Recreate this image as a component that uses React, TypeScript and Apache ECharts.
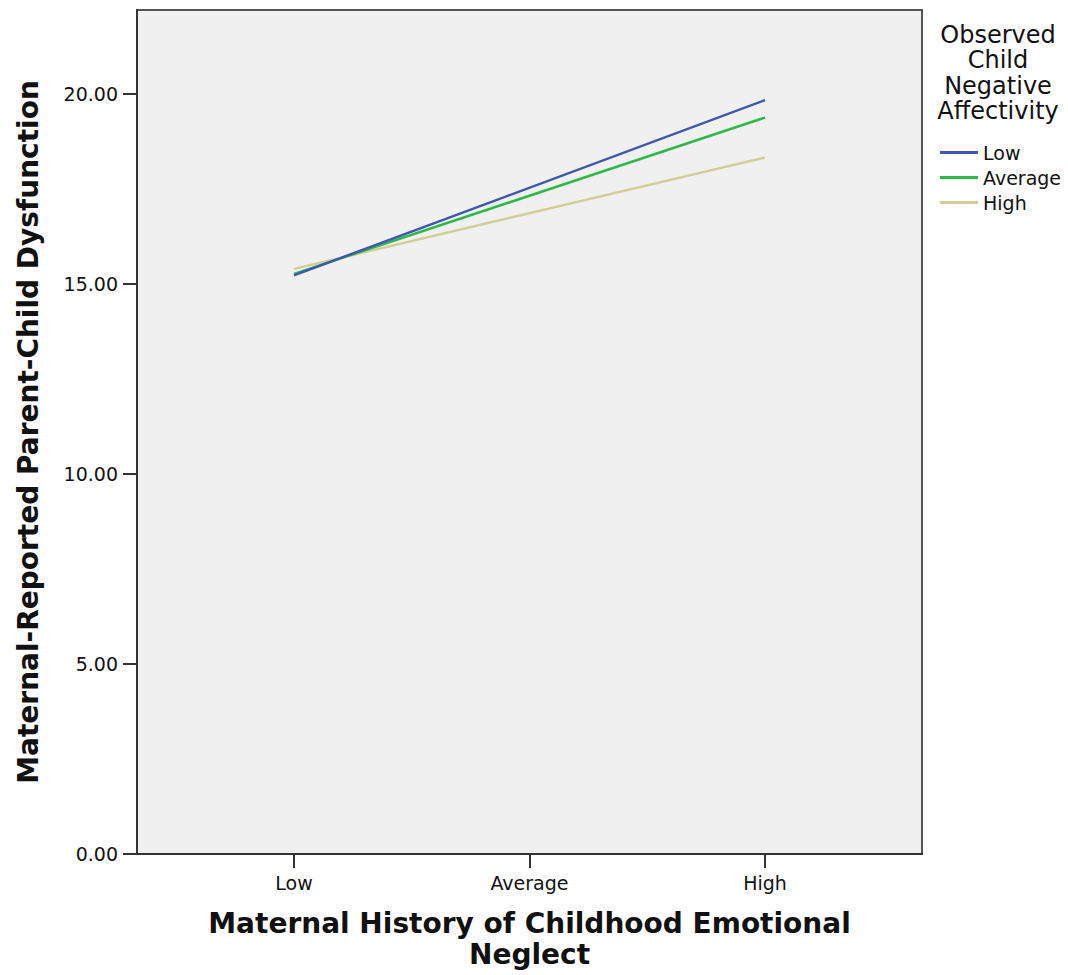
import React, { useEffect, useRef } from "react";
import * as echarts from "echarts";

// Levels of maternal childhood emotional neglect on the x axis
const xCategories = ["Low", "Average", "High"];
// Levels at which the simple slopes are evaluated
const plottedLevels = ["Low", "High"];
// Moderator levels (observed child negative affectivity)
const moderatorLevels = ["Low", "Average", "High"];
// Predicted parent-child dysfunction at Low and High neglect
const lowNAValues = [15.22, 19.83];
const averageNAValues = [15.26, 19.37];
const highNAValues = [15.39, 18.32];
const yTicks = [0, 5, 10, 15, 20];

const seriesValues = [lowNAValues, averageNAValues, highNAValues];
const seriesColors = ["#3E58AC", "#2EB848", "#D3CE97"];

const FONT = "DejaVu Sans";
const TEXT = "#111111";

export default function App() {
  const ref = useRef<HTMLDivElement>(null);

  useEffect(() => {
    if (!ref.current) return;
    const chart = echarts.init(ref.current, undefined, { renderer: "svg" });

    const series = moderatorLevels.map((name, i) => ({
      name,
      type: "line",
      data: plottedLevels.map((lvl, j) => [xCategories.indexOf(lvl) + 1, seriesValues[i][j]]),
      showSymbol: false,
      symbol: "none",
      lineStyle: { color: seriesColors[i], width: 2.5 },
      itemStyle: { color: seriesColors[i] },
      z: 3 - i,
    }));

    chart.setOption({
      animation: false,
      backgroundColor: "#ffffff",
      textStyle: { fontFamily: FONT },
      grid: {
        left: 137,
        top: 10,
        right: 146,
        bottom: 120,
        show: true,
        backgroundColor: "#f0f0f0",
        borderColor: "#555555",
        borderWidth: 2,
      },
      xAxis: {
        type: "value",
        min: 1 / 3,
        max: 11 / 3,
        name: "Maternal History of Childhood Emotional\nNeglect",
        nameLocation: "middle",
        nameGap: 54,
        nameTextStyle: {
          fontFamily: FONT,
          fontSize: 28,
          fontWeight: "bold",
          color: TEXT,
          lineHeight: 31,
        },
        axisLine: { show: true, lineStyle: { color: "#333333", width: 2 } },
        axisTick: {
          show: true,
          length: 14,
          customValues: xCategories.map((_, i) => i + 1),
          lineStyle: { color: "#333333", width: 2 },
        },
        axisLabel: {
          customValues: xCategories.map((_, i) => i + 1),
          formatter: (v: number) => xCategories[Math.round(v) - 1] ?? "",
          margin: 19,
          fontFamily: FONT,
          fontSize: 19,
          color: TEXT,
        },
        splitLine: { show: false },
      },
      yAxis: {
        type: "value",
        min: 0,
        max: 22.2,
        name: "Maternal-Reported Parent-Child Dysfunction",
        nameLocation: "middle",
        nameGap: 95,
        nameRotate: 90,
        nameTextStyle: {
          fontFamily: FONT,
          fontSize: 28,
          fontWeight: "bold",
          color: TEXT,
        },
        axisLine: { show: true, lineStyle: { color: "#333333", width: 2 } },
        axisTick: {
          show: true,
          length: 14,
          customValues: yTicks,
          lineStyle: { color: "#333333", width: 2 },
        },
        axisLabel: {
          customValues: yTicks,
          formatter: (v: number) => v.toFixed(2),
          margin: 19,
          fontFamily: FONT,
          fontSize: 19,
          color: TEXT,
        },
        splitLine: { show: false },
      },
      legend: {
        orient: "vertical",
        left: 935,
        top: 138,
        data: moderatorLevels,
        icon: "rect",
        itemWidth: 38,
        itemHeight: 3,
        itemGap: 6,
        textStyle: { fontFamily: FONT, fontSize: 19, color: TEXT, lineHeight: 19 },
      },
      graphic: [
        {
          type: "text",
          x: 998,
          y: 22,
          style: {
            text: "Observed\nChild\nNegative\nAffectivity",
            fontFamily: FONT,
            fontSize: 24,
            lineHeight: 25.5,
            fill: TEXT,
            align: "center",
            verticalAlign: "top",
          },
        },
      ],
      series,
    });

    return () => chart.dispose();
  }, []);

  return (
    <div
      ref={ref}
      style={{ position: "absolute", left: 0, top: 0, width: 1068, height: 975 }}
    />
  );
}
